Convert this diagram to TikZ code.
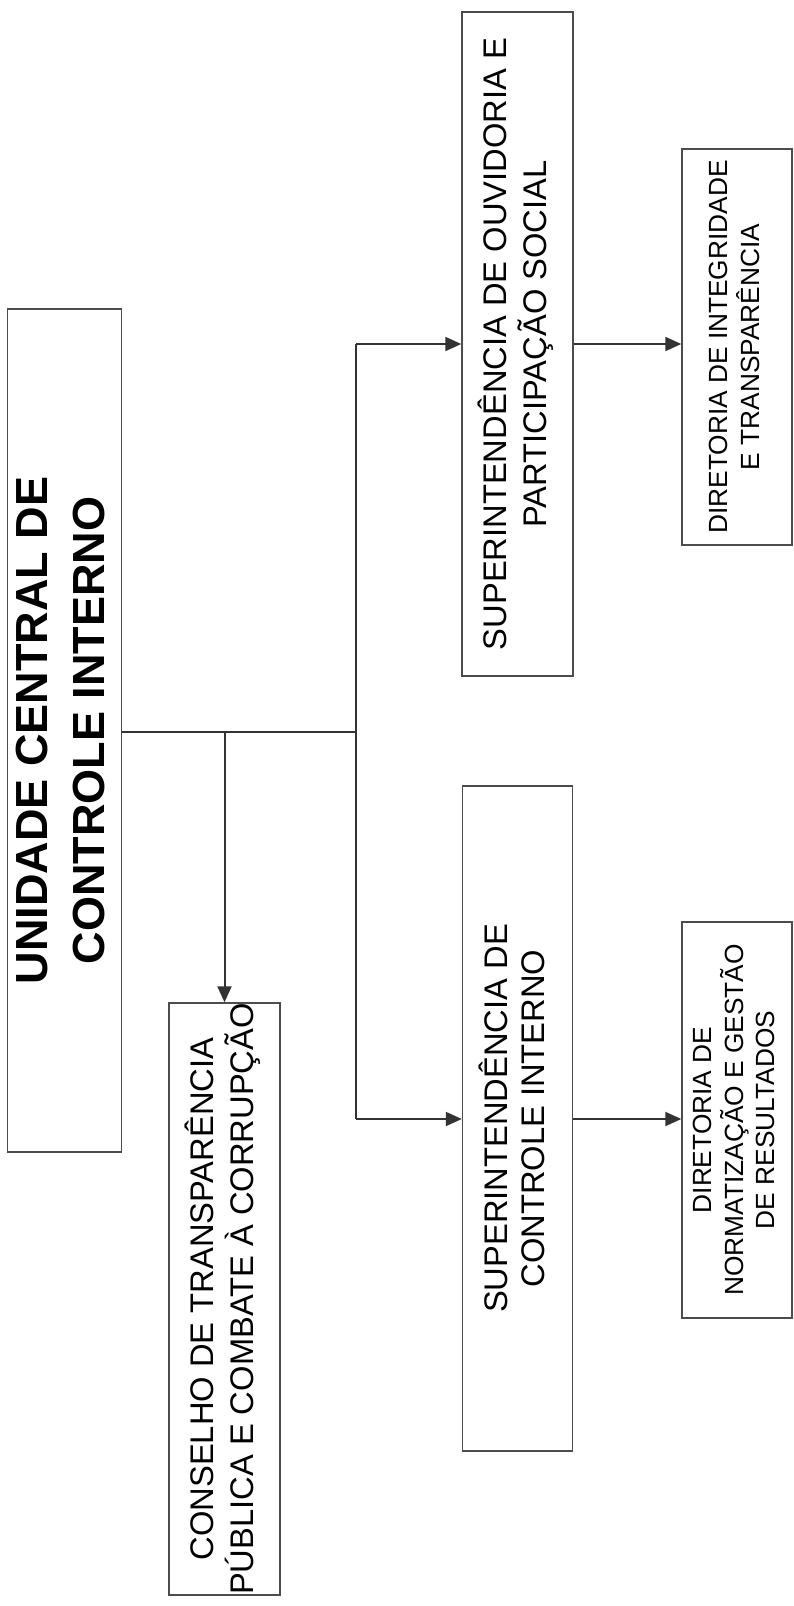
\documentclass[tikz,border=0pt]{standalone}
\usepackage{fontspec}
\usepackage{graphicx}
\setmainfont{Liberation Sans}
\usetikzlibrary{arrows.meta}
\newcommand{\rottext}[3]{\rotatebox{90}{\fontsize{#1}{#2}\selectfont\begin{tabular}{@{}c@{}}#3\end{tabular}}}
\begin{document}
\begin{tikzpicture}[x=1pt,y=1pt,
  orgbox/.style={draw=black!70,line width=1.4pt,rectangle,inner sep=0pt,fill=white},
  link/.style={draw=black!80,line width=2pt},
  arr/.style={link,-{Triangle[length=16pt,width=14pt]}}]
\useasboundingbox[fill=white] (0,0) rectangle (793,-1606);
\node[orgbox,minimum width=113pt,minimum height=843pt] (main) at (64.5,-730.5)
  {\rottext{45pt}{57pt}{\bfseries UNIDADE CENTRAL DE\\\bfseries CONTROLE INTERNO}};
\node[orgbox,minimum width=111pt,minimum height=592pt] (cons) at (224.5,-1299)
  {\rottext{32.7pt}{37pt}{CONSELHO DE TRANSPARÊNCIA\\PÚBLICA E COMBATE À CORRUPÇÃO}};
\node[orgbox,minimum width=111pt,minimum height=664pt] (supo) at (517.5,-344)
  {\rottext{32.7pt}{37pt}{SUPERINTENDÊNCIA DE OUVIDORIA E\\PARTICIPAÇÃO SOCIAL}};
\node[orgbox,minimum width=110pt,minimum height=665pt] (supc) at (517.5,-1118.5)
  {\rottext{32.7pt}{37pt}{SUPERINTENDÊNCIA DE\\CONTROLE INTERNO}};
\node[orgbox,minimum width=110pt,minimum height=396pt] (diri) at (737,-347)
  {\rottext{26.3pt}{31pt}{DIRETORIA DE INTEGRIDADE\\E TRANSPARÊNCIA}};
\node[orgbox,minimum width=110pt,minimum height=396pt] (dirn) at (737,-1120)
  {\rottext{26.3pt}{31pt}{DIRETORIA DE\\NORMATIZAÇÃO E GESTÃO\\DE RESULTADOS}};
\coordinate (hub) at (356,-732);
\coordinate (j1) at (224.5,-732);
\coordinate (sT) at (356,-344);
\coordinate (sB) at (356,-1119);
\draw[link] (hub -| main.east) -- (hub);
\draw[arr] (j1) -- (cons.north);
\draw[link] (sT) -- (sB);
\draw[arr] (sT) -- (supo.west |- sT);
\draw[arr] (sB) -- (supc.west |- sB);
\draw[arr] (supo.east |- sT) -- (diri.west |- sT);
\draw[arr] (supc.east |- sB) -- (dirn.west |- sB);
\end{tikzpicture}
\end{document}
